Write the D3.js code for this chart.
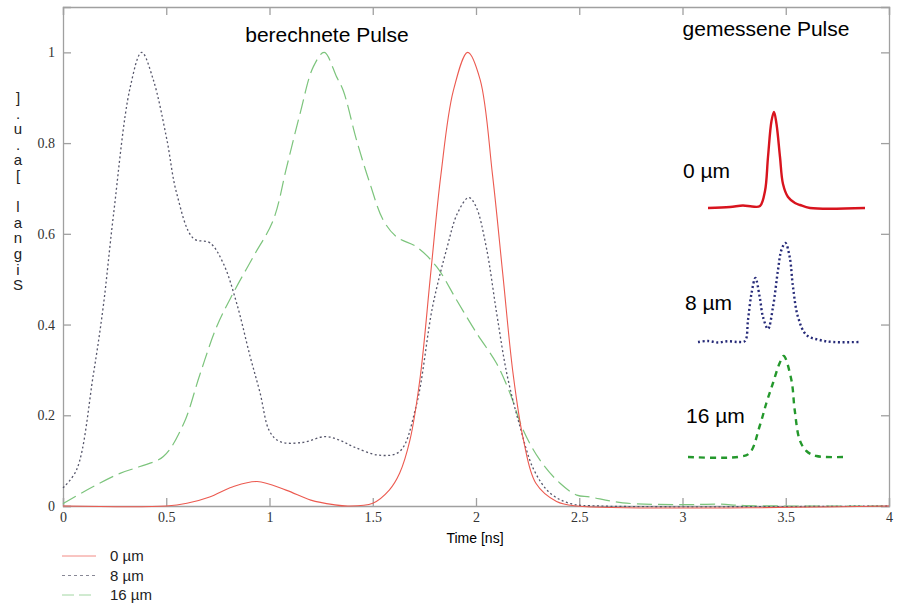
<!DOCTYPE html>
<html>
<head>
<meta charset="utf-8">
<script src="https://d3js.org/d3.v7.min.js"></script>
<style>
  body { margin: 0; background: #fff; }
  .tick text { font-family: "Liberation Serif", "DejaVu Serif", serif; font-size: 14px; fill: #333; }
  .axis path, .axis line { stroke: #a0a0a0; stroke-width: 1.3; }
</style>
</head>
<body>
<div id="chart-area"></div>
<script>
// berechnete Pulse (time in ns, signal in a.u.)
var t0 = [0, 0.5, 0.6, 0.71, 0.82, 0.94, 1.08, 1.2, 1.31, 1.38, 1.5, 1.58, 1.63, 1.68, 1.73, 1.78, 1.83, 1.89, 1.96, 2.02, 2.08, 2.13, 2.18, 2.23, 2.29, 2.39, 2.49, 4.0];
var v0 = [0, 0, 0.006, 0.02, 0.042, 0.054, 0.035, 0.013, 0.003, 0, 0.006, 0.035, 0.072, 0.145, 0.285, 0.51, 0.73, 0.915, 1.0, 0.94, 0.73, 0.51, 0.29, 0.145, 0.05, 0.01, 0, 0];

var t8 = [0, 0.066, 0.147, 0.195, 0.244, 0.324, 0.381, 0.437, 0.502, 0.55, 0.631, 0.712, 0.776, 0.841, 0.906, 0.954, 1.0, 1.05, 1.16, 1.27, 1.34, 1.41, 1.53, 1.63, 1.71, 1.79, 1.86, 1.91, 1.965, 2.0, 2.05, 2.1, 2.15, 2.21, 2.28, 2.36, 2.46, 2.6, 4.0];
var v8 = [0.04, 0.08, 0.29, 0.44, 0.64, 0.92, 1.0, 0.94, 0.81, 0.69, 0.59, 0.58, 0.535, 0.447, 0.33, 0.25, 0.165, 0.142, 0.14, 0.153, 0.145, 0.13, 0.112, 0.12, 0.22, 0.44, 0.57, 0.645, 0.68, 0.66, 0.57, 0.425, 0.29, 0.18, 0.08, 0.028, 0.005, 0, 0];

var t16 = [0, 0.018, 0.147, 0.276, 0.373, 0.486, 0.583, 0.663, 0.744, 0.825, 0.922, 1.018, 1.083, 1.148, 1.212, 1.265, 1.325, 1.357, 1.422, 1.487, 1.551, 1.616, 1.713, 1.81, 1.906, 2.003, 2.1, 2.165, 2.229, 2.31, 2.407, 2.488, 2.55, 2.71, 3.0, 3.18, 3.3, 4.0];
var v16 = [0.005, 0.01, 0.043, 0.072, 0.087, 0.109, 0.18, 0.29, 0.395, 0.47, 0.55, 0.63, 0.747, 0.865, 0.968, 1.0, 0.946, 0.916, 0.806, 0.71, 0.63, 0.593, 0.571, 0.527, 0.454, 0.381, 0.314, 0.248, 0.167, 0.101, 0.05, 0.024, 0.02, 0.007, 0.003, 0.004, 0.001, 0];

// gemessene Pulse (relative time, normalised signal)
var m0t = [0, 0.22, 0.35, 0.44, 0.52, 0.57, 0.6, 0.635, 0.66, 0.685, 0.72, 0.75, 0.8, 0.87, 0.92, 1.02, 1.57];
var m0v = [0, 0.01, 0.025, 0.015, 0.02, 0.17, 0.51, 0.87, 0.96, 0.84, 0.51, 0.24, 0.11, 0.05, 0.03, 0, 0];

var m8t = [0, 0.1, 0.2, 0.3, 0.4, 0.47, 0.5, 0.534, 0.574, 0.617, 0.65, 0.7, 0.75, 0.8, 0.834, 0.874, 0.917, 0.95, 1.0, 1.084, 1.217, 1.35, 1.617];
var m8v = [0, 0.01, -0.005, 0.008, 0, 0.01, 0.22, 0.48, 0.64, 0.45, 0.25, 0.13, 0.35, 0.72, 0.92, 0.99, 0.85, 0.55, 0.25, 0.07, 0.02, 0, 0];

var m16t = [0, 0.5, 0.617, 0.717, 0.784, 0.85, 0.917, 0.957, 1.034, 1.067, 1.117, 1.184, 1.284, 1.55];
var m16v = [0, 0, 0.04, 0.31, 0.54, 0.74, 0.94, 1.01, 0.77, 0.47, 0.17, 0.06, 0.01, 0];

var xTicks = [0, 0.5, 1, 1.5, 2, 2.5, 3, 3.5, 4];
var yTicks = [0, 0.2, 0.4, 0.6, 0.8, 1];
var seriesNames = ["0 µm", "8 µm", "16 µm"];

var margin = {top: 7, right: 18, bottom: 100, left: 63};
var width = 826;
var height = 499;
var sans = "Arial, 'Liberation Sans', sans-serif";

var svg = d3.select("#chart-area")
    .append("svg")
        .attr("width", 907)
        .attr("height", 606);

var g = svg.append("g")
    .attr("transform", "translate(" + margin.left + ", " + margin.top + ")");

var x = d3.scaleLinear().domain([0, 4]).range([0, width]);
var y = d3.scaleLinear().domain([0, 1.1]).range([height, 0]);

// axes, ticks pointing inwards on all four sides
g.append("g").attr("class", "axis")
    .attr("transform", "translate(0," + height + ")")
    .call(d3.axisBottom(x).tickValues(xTicks).tickSize(-8).tickPadding(6).tickFormat(d3.format("")));
g.append("g").attr("class", "axis")
    .call(d3.axisTop(x).tickValues(xTicks).tickSize(-8).tickFormat(""));
g.append("g").attr("class", "axis")
    .call(d3.axisLeft(y).tickValues(yTicks).tickSize(-8).tickPadding(8).tickFormat(d3.format("")));
g.append("g").attr("class", "axis")
    .attr("transform", "translate(" + width + ",0)")
    .call(d3.axisRight(y).tickValues(yTicks).tickSize(-8).tickFormat(""));

var line = d3.line()
    .x(function(d){ return x(d[0]); })
    .y(function(d){ return y(d[1]); })
    .curve(d3.curveCatmullRom);

function pairs(a, b) { return a.map(function(d, i){ return [d, b[i]]; }); }

var styles = [
    {color: "#ec5a50", dash: null, w: 1.1},
    {color: "#55556a", dash: "2,2.5", w: 1.3},
    {color: "#7cc47c", dash: "15,6", w: 1.2}
];

g.append("path").datum(pairs(t16, v16))
    .attr("d", line).attr("fill", "none")
    .attr("stroke", styles[2].color).attr("stroke-width", styles[2].w).attr("stroke-dasharray", styles[2].dash);
g.append("path").datum(pairs(t8, v8))
    .attr("d", line).attr("fill", "none")
    .attr("stroke", styles[1].color).attr("stroke-width", styles[1].w).attr("stroke-dasharray", styles[1].dash);
g.append("path").datum(pairs(t0, v0))
    .attr("d", line).attr("fill", "none")
    .attr("stroke", styles[0].color).attr("stroke-width", styles[0].w);

// titles
svg.append("text").attr("x", 327).attr("y", 42)
    .attr("text-anchor", "middle")
    .style("font-family", sans).style("font-size", "21px")
    .text("berechnete Pulse");
svg.append("text").attr("x", 766).attr("y", 36)
    .attr("text-anchor", "middle")
    .style("font-family", sans).style("font-size", "21px")
    .text("gemessene Pulse");

// x label
svg.append("text").attr("x", 475).attr("y", 543)
    .attr("text-anchor", "middle")
    .style("font-family", sans).style("font-size", "14px")
    .text("Time [ns]");

// y label, letters stacked bottom to top
var yLab = "Signal [a.u.]".split("").reverse();
svg.append("g").selectAll("text")
    .data(yLab)
    .enter()
    .append("text")
        .attr("x", 18)
        .attr("y", function(d, i){ return 103 + i * 15.6; })
        .attr("text-anchor", "middle")
        .style("font-family", sans)
        .style("font-size", "15px")
        .style("fill", "#222")
        .text(function(d){ return d; });

// measured pulse insets
var insets = [
    {t: m0t, v: m0v, x0: 708, base: 208, color: "#d8141e", dash: null, label: seriesNames[0], lx: 683, ly: 178},
    {t: m8t, v: m8v, x0: 698, base: 342, color: "#262a78", dash: "2,2.6", label: seriesNames[1], lx: 685, ly: 310},
    {t: m16t, v: m16v, x0: 688, base: 457, color: "#24982c", dash: "6,5", label: seriesNames[2], lx: 686, ly: 423}
];
var ix = d3.scaleLinear().domain([0, 1]).range([0, 100]);
var iy = d3.scaleLinear().domain([0, 1]).range([0, -100]);
var iline = d3.line()
    .x(function(d){ return ix(d[0]); })
    .y(function(d){ return iy(d[1]); })
    .curve(d3.curveCatmullRom);

insets.forEach(function(s){
    var ig = svg.append("g").attr("transform", "translate(" + s.x0 + "," + s.base + ")");
    ig.append("path").datum(pairs(s.t, s.v))
        .attr("d", iline).attr("fill", "none")
        .attr("stroke", s.color).attr("stroke-width", 2.4)
        .attr("stroke-dasharray", s.dash);
    svg.append("text").attr("x", s.lx).attr("y", s.ly)
        .style("font-family", sans).style("font-size", "21px")
        .text(s.label);
});

// legend
var leg = svg.append("g").selectAll("g")
    .data(seriesNames)
    .enter()
    .append("g")
        .attr("transform", function(d, i){ return "translate(62," + (556 + i * 19.5) + ")"; });
leg.append("line")
    .attr("x1", 0).attr("x2", 34)
    .attr("stroke", function(d, i){ return styles[i].color; })
    .attr("stroke-opacity", 0.7)
    .attr("stroke-width", 1)
    .attr("stroke-dasharray", function(d, i){ return i == 1 ? "3,3" : (i == 2 ? "12,5" : null); });
leg.append("text")
    .attr("x", 48).attr("y", 5)
    .style("font-family", sans)
    .style("font-size", "15px")
    .style("fill", "#222")
    .text(function(d){ return d; });
</script>
</body>
</html>
